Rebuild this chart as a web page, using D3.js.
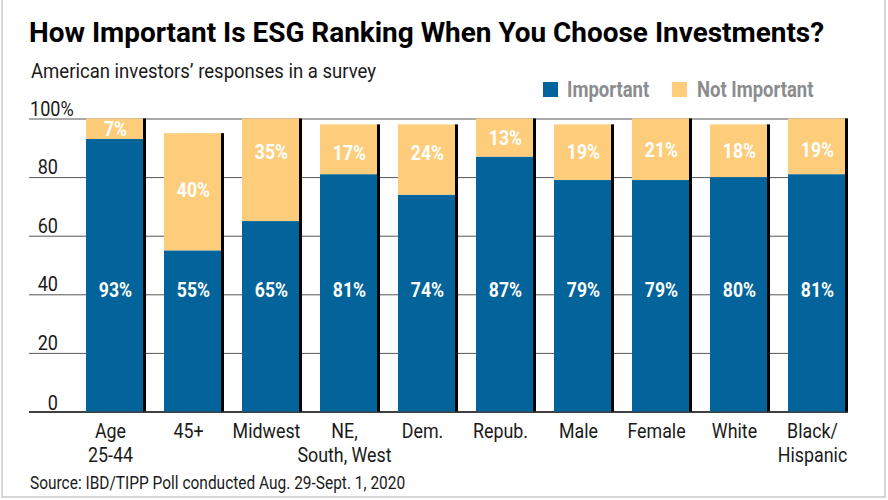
<!DOCTYPE html>
<html><head><meta charset="utf-8">
<script src="https://cdn.jsdelivr.net/npm/d3@7"></script>
<style>
html,body{margin:0;padding:0;background:#fff;}
svg{display:block;}
text{font-family:Roboto,sans-serif;}
</style></head><body>
<svg id="c" width="888" height="500"></svg>
<script>
const categories=[["Age","25-44"],["45+"],["Midwest"],["NE,","South, West"],["Dem."],["Repub."],["Male"],["Female"],["White"],["Black/","Hispanic"]];
const important=[93,55,65,81,74,87,79,79,80,81];
const notImportant=[7,40,35,17,24,13,19,21,18,19];
const notImportantLabelAt=[96.4,75.6,88.5,88.2,88.2,93.3,88.5,89.2,88.9,89.2];
const importantLabelAt=41.5;
const yTicks=[0,20,40,60,80,100];
const seriesNames=["Important","Not Important"];
const colors=["#02649a","#fdcd7c"];
const titleText="How Important Is ESG Ranking When You Choose Investments?";
const subtitleText="American investors\u2019 responses in a survey";
const sourceText="Source: IBD/TIPP Poll conducted Aug. 29-Sept. 1, 2020";

const svg=d3.select("#c");
const ids=d3.range(categories.length);
const x=d3.scaleBand().domain(ids).range([86,848]).paddingInner(18/78).paddingOuter(0);
const y=d3.scaleLinear().domain([0,100]).range([411.5,118.5]);
const barW=x.bandwidth()-3;

function label(str,px,py,o){
  o=Object.assign({size:18,sx:0.82,anchor:"start",fill:"#1a1a1a",weight:400},o||{});
  return svg.append("text").text(str)
    .attr("transform",`translate(${px},${py}) scale(${o.sx},1)`)
    .attr("text-anchor",o.anchor).attr("font-size",o.size)
    .attr("font-weight",o.weight).attr("fill",o.fill);
}
// frame
svg.append("path").attr("d","M2,0V497H885V0").attr("fill","none").attr("stroke","#c9c9c9").attr("stroke-width",1.5);

label(titleText,29,41.5,{size:28.5,sx:0.98,weight:700,fill:"#000"});
label(subtitleText,31,78,{size:21,sx:0.883});

// legend
const legendBox=[543,672],legendText=[567,697];
seriesNames.forEach((s,i)=>{
  svg.append("rect").attr("x",legendBox[i]).attr("y",82).attr("width",15).attr("height",15).attr("fill",colors[i]);
  label(s,legendText[i],97,{size:22,sx:0.84,weight:700,fill:"#8a8c8e"});
});

// grid
const grid=d3.axisLeft(y).tickValues(yTicks).tickSize(-819).tickFormat("");
svg.append("g").attr("transform","translate(29,0)").call(grid)
  .call(g=>g.select(".domain").remove())
  .call(g=>g.selectAll("line").attr("x1",0).attr("x2",819)
    .attr("stroke",d=>d===0?"#000":"#555").attr("stroke-width",d=>d===0?1.5:1));

yTicks.forEach(t=>{
  label(t===100?"100%":String(t),t===100?30:58,y(t)-(t===0?2:3),{size:21,sx:0.86,anchor:t===100?"start":"end"});
});

// bars
const g=svg.append("g");
ids.forEach(i=>{
  const top=important[i]+notImportant[i];
  g.append("rect").attr("x",x(i)+barW).attr("y",y(top)).attr("width",3).attr("height",y(0)-y(top)).attr("fill","#000");
  g.append("rect").attr("x",x(i)).attr("y",y(important[i])).attr("width",barW).attr("height",y(0)-y(important[i])).attr("fill",colors[0]);
  g.append("rect").attr("x",x(i)).attr("y",y(top)).attr("width",barW).attr("height",y(important[i])-y(top)).attr("fill",colors[1]);
  const cx=x(i)+barW/2+1;
  label(important[i]+"%",cx,y(importantLabelAt)+7,{size:20.5,sx:0.86,weight:700,fill:"#fff",anchor:"middle"});
  label(notImportant[i]+"%",cx,y(notImportantLabelAt[i])+7,{size:20.5,sx:0.86,weight:700,fill:"#fff",anchor:"middle"});
  categories[i].forEach((l,k)=>{
    label(l,cx-5,y(0)+26+k*24.5,{size:21,sx:0.85,anchor:"middle"});
  });
});
label(sourceText,30,489,{size:18,sx:0.86});
</script>
</body></html>
